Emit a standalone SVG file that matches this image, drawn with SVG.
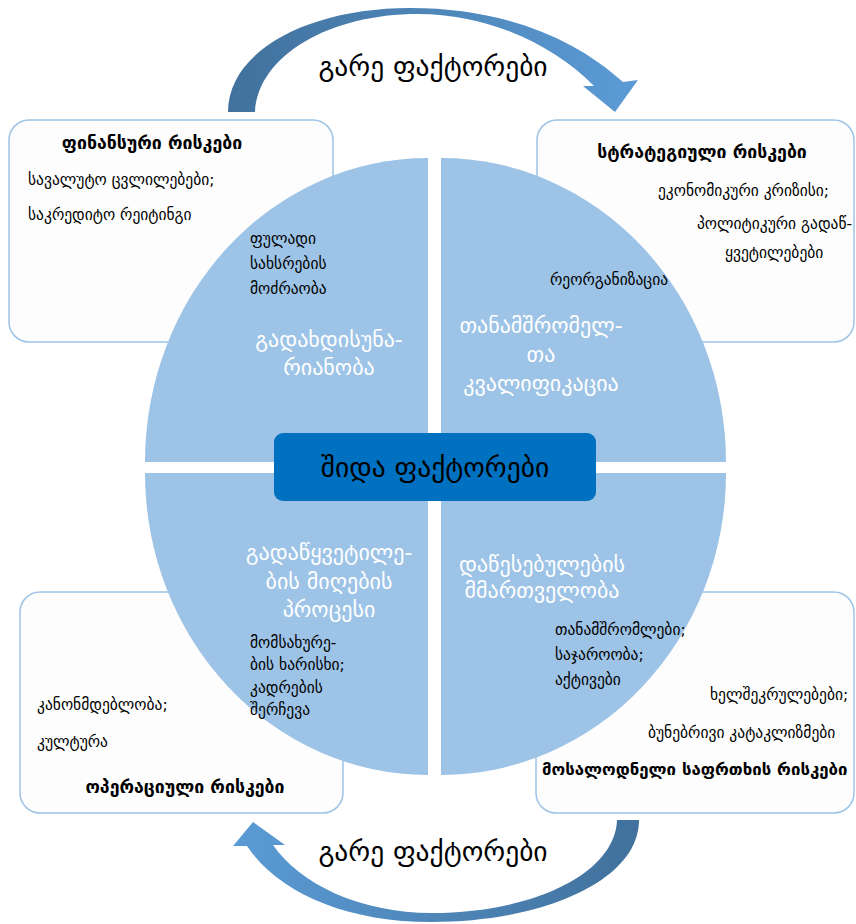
<svg xmlns="http://www.w3.org/2000/svg" width="856" height="924" viewBox="0 0 856 924">
  <style>
    text { font-family: "DejaVu Sans", "Noto Sans", sans-serif; }
    .box { fill: #fdfdfd; stroke: #9dc3e6; stroke-width: 1.5; }
    .quad { fill: #9dc3e6; }
    .head { font-size: 17.7px; font-weight: bold; fill: #000; }
    .item { font-size: 15.5px; fill: #000; }
    .inner { font-size: 22px; fill: #fff; text-anchor: middle; }
    .big { font-size: 27.5px; fill: #000; text-anchor: middle; }
  </style>
  <defs>
    <linearGradient id="gradTop" x1="0" y1="0" x2="1" y2="0">
      <stop offset="0" stop-color="#41719c"/>
      <stop offset="1" stop-color="#5b9bd5"/>
    </linearGradient>
    <linearGradient id="gradBottom" x1="0" y1="0" x2="1" y2="0">
      <stop offset="0" stop-color="#5b9bd5"/>
      <stop offset="1" stop-color="#41719c"/>
    </linearGradient>
  </defs>

  <rect width="856" height="924" fill="#ffffff"/>

  <!-- risk boxes -->
  <g id="financial-risks">
    <rect class="box" x="9" y="120" width="324" height="222" rx="20"/>
    <text class="head" x="152" y="149" text-anchor="middle">ფინანსური რისკები</text>
    <text class="item" x="28" y="185">სავალუტო ცვლილებები;</text>
    <text class="item" x="28" y="220">საკრედიტო რეიტინგი</text>
  </g>
  <g id="strategic-risks">
    <rect class="box" x="537" y="120" width="317" height="222" rx="20"/>
    <text class="head" x="702" y="158" text-anchor="middle">სტრატეგიული რისკები</text>
    <text class="item" x="658" y="196">ეკონომიკური კრიზისი;</text>
    <text class="item" x="697" y="229">პოლიტიკური გადაწ-</text>
    <text class="item" x="725" y="258">ყვეტილებები</text>
  </g>
  <g id="operational-risks">
    <rect class="box" x="20" y="592" width="323" height="221" rx="20"/>
    <text class="item" x="37" y="710">კანონმდებლობა;</text>
    <text class="item" x="37" y="747">კულტურა</text>
    <text class="head" x="185" y="793" text-anchor="middle">ოპერაციული რისკები</text>
  </g>
  <g id="hazard-risks">
    <rect class="box" x="536" y="592" width="318" height="221" rx="20"/>
    <text class="item" x="710" y="700">ხელშეკრულებები;</text>
    <text class="item" x="648" y="738">ბუნებრივი კატაკლიზმები</text>
    <text class="head" x="542" y="775" style="font-size:16.8px">მოსალოდნელი საფრთხის რისკები</text>
  </g>

  <!-- internal factor quadrants -->
  <g id="quad-liquidity">
    <path class="quad" d="M428,462 L145,462 A283,304 0 0 1 428,158 Z"/>
    <text class="item" x="250" y="244">ფულადი</text>
    <text class="item" x="250" y="269">სახსრების</text>
    <text class="item" x="250" y="294">მოძრაობა</text>
    <text class="inner" x="329" y="347">გადახდისუნა-</text>
    <text class="inner" x="329" y="375">რიანობა</text>
  </g>
  <g id="quad-staff">
    <path class="quad" d="M441,462 L441,158 A285,304 0 0 1 726,462 Z"/>
    <text class="item" x="550" y="285">რეორგანიზაცია</text>
    <text class="inner" x="541" y="333">თანამშრომელ-</text>
    <text class="inner" x="541" y="362">თა</text>
    <text class="inner" x="541" y="391">კვალიფიკაცია</text>
  </g>
  <g id="quad-decisions">
    <path class="quad" d="M428,473 L145,473 A283,302 0 0 0 428,775 Z"/>
    <text class="inner" x="329" y="560">გადაწყვეტილე-</text>
    <text class="inner" x="329" y="589">ბის მიღების</text>
    <text class="inner" x="329" y="617">პროცესი</text>
    <text class="item" x="250" y="648">მომსახურე-</text>
    <text class="item" x="250" y="670">ბის ხარისხი;</text>
    <text class="item" x="250" y="693">კადრების</text>
    <text class="item" x="250" y="715">შერჩევა</text>
  </g>
  <g id="quad-governance">
    <path class="quad" d="M441,473 L726,473 A285,302 0 0 1 441,775 Z"/>
    <text class="inner" x="542" y="572">დაწესებულების</text>
    <text class="inner" x="542" y="598">მმართველობა</text>
    <text class="item" x="555" y="635">თანამშრომლები;</text>
    <text class="item" x="555" y="660">საჯაროობა;</text>
    <text class="item" x="555" y="685">აქტივები</text>
  </g>

  <!-- central label -->
  <g id="internal-factors">
    <rect x="274" y="433" width="322" height="68" rx="9" fill="#0070c0"/>
    <text class="big" x="435" y="477">შიდა ფაქტორები</text>
  </g>

  <!-- external factor arrows -->
  <g id="connectors">
    <path fill="url(#gradTop)" d="M228,112 C228,50 310,8 410,8 C500,8 572,36 623,82 L638,80 L615,112 L583,86 L594,86 C555,46 490,14 418,14 C330,14 258,55 255,112 Z"/>
    <path fill="url(#gradBottom)" d="M639,820 C639,882 540,922 432,922 C345,922 278,892 247,846 L233,846 L253,822 L285,845 L273,845 C300,884 360,913 432,913 C530,913 615,875 617,820 Z"/>
  </g>
  <g id="external-factors-top">
    <text class="big" x="433" y="76">გარე ფაქტორები</text>
  </g>
  <g id="external-factors-bottom">
    <text class="big" x="433" y="861">გარე ფაქტორები</text>
  </g>
</svg>
